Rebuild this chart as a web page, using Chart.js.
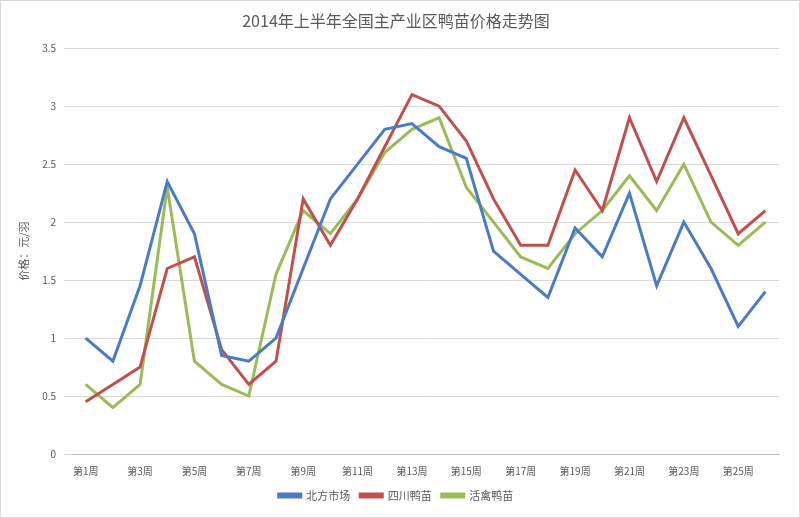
<!DOCTYPE html>
<html><head><meta charset="utf-8">
<script src="https://cdn.jsdelivr.net/npm/chart.js@4"></script>
<style>html,body{margin:0;padding:0;background:#fff}#w{width:800px;height:518px;border:1px solid #d9d9d9;box-sizing:border-box}</style>
</head><body><div id="w"><canvas id="c"></canvas></div>
<script>
const weeks = Array.from({length:26},(_,i)=>'第'+(i+1)+'周');
const north = [1.0,0.8,1.45,2.35,1.9,0.85,0.8,1.0,1.6,2.2,2.5,2.8,2.85,2.65,2.55,1.75,1.55,1.35,1.95,1.7,2.25,1.45,2.0,1.6,1.1,1.4];
const sichuan = [0.45,0.6,0.75,1.6,1.7,0.9,0.6,0.8,2.2,1.8,2.2,2.65,3.1,3.0,2.7,2.2,1.8,1.8,2.45,2.1,2.9,2.35,2.9,2.4,1.9,2.1];
const live = [0.6,0.4,0.6,2.3,0.8,0.6,0.5,1.55,2.1,1.9,2.2,2.6,2.8,2.9,2.3,2.0,1.7,1.6,1.9,2.1,2.4,2.1,2.5,2.0,1.8,2.0];
const F = "'Noto Sans CJK SC', sans-serif";
new Chart(document.getElementById('c'),{
type:'line',
data:{labels:weeks,datasets:[
{label:'北方市场',data:north,borderColor:'#4a7cc4',backgroundColor:'#4a7cc4'},
{label:'四川鸭苗',data:sichuan,borderColor:'#c0504d',backgroundColor:'#c0504d'},
{label:'活禽鸭苗',data:live,borderColor:'#9bbb59',backgroundColor:'#9bbb59'}]},
options:{responsive:true,maintainAspectRatio:false,animation:false,
elements:{point:{radius:0},line:{borderWidth:3,tension:0}},
layout:{padding:{left:12,right:20,top:4,bottom:6}},
plugins:{title:{display:true,text:'2014年上半年全国主产业区鸭苗价格走势图',color:'#595959',font:{family:F,size:16,weight:'normal'},padding:{top:6,bottom:18}},
legend:{position:'bottom',labels:{boxWidth:22,boxHeight:3,color:'#595959',font:{family:F,size:11}}}},
scales:{x:{offset:true,grid:{display:false},border:{color:'#bfbfbf'},ticks:{color:'#595959',autoSkip:false,maxRotation:0,font:{family:F,size:10},callback:function(v,i){return i%2===0?this.getLabelForValue(v):'';}}},
y:{min:0,max:3.5,ticks:{stepSize:0.5,padding:8,color:'#595959',font:{family:F,size:10},callback:v=>String(+v.toFixed(1))},grid:{color:'#d9d9d9'},border:{display:false},
title:{display:true,text:'价格：元/羽',color:'#595959',font:{family:F,size:11}}}}}
});
</script></body></html>
